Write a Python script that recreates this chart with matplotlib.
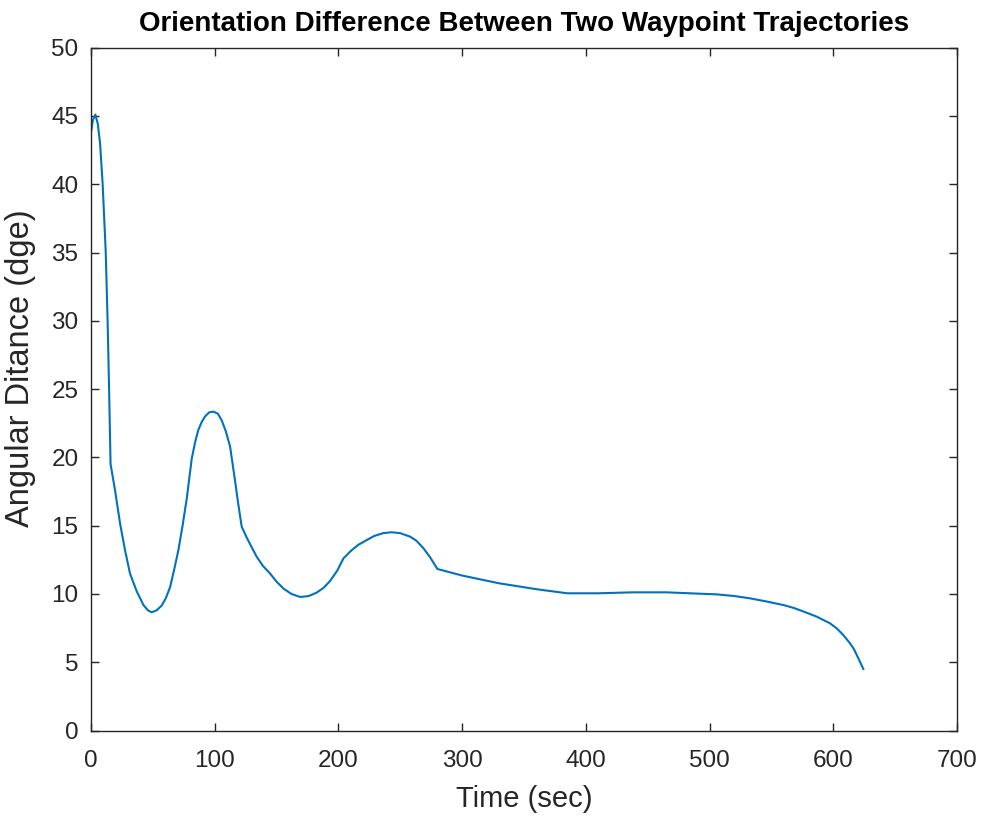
import matplotlib
matplotlib.use('Agg')
import matplotlib.pyplot as plt

# Data
time_sec = [0, 1.5, 3.5, 5.5, 7.3, 9.4, 11.9, 13.4, 14.6, 15.3, 15.8,
            19.4, 23.4, 27.5, 31.5, 36.9, 42.3, 46, 49, 53, 57.1, 60.5, 63.9,
            67, 70.6, 74, 77.4, 81.4, 84.1, 86.7, 89.5, 92.2, 95.5, 98.9,
            102.5, 105.7, 109, 112.4, 116.4, 119, 121.8,
            126, 130, 133.9, 139, 144.7, 150, 155.5, 162, 169, 176, 182.4,
            188, 193.2, 199, 204,
            210, 216.1, 222.9, 229, 236, 243, 250, 257.9, 263, 268.7, 274, 280,
            300, 330, 360, 385, 410, 438, 465, 492, 506,
            520, 532.7, 546, 559.7, 568, 575.8, 586.6, 597.4, 602.7,
            608.1, 613.5, 616.5, 618.9, 621.5, 624.3]
ang_dist = [43.8, 44.7, 45.1, 44.4, 43.0, 40.0, 35.0, 30.0, 25.0, 21.7, 19.5,
            17.6, 15.2, 13.2, 11.5, 10.2, 9.2, 8.8, 8.66, 8.8, 9.15, 9.7, 10.5,
            11.7, 13.2, 15.0, 17.0, 19.9, 21.1, 22.0, 22.6, 23.0, 23.3, 23.35,
            23.2, 22.7, 21.9, 20.8, 18.3, 16.6, 14.93,
            14.1, 13.4, 12.73, 12.05, 11.5, 10.9, 10.4, 10.0, 9.78, 9.85, 10.1,
            10.45, 10.95, 11.7, 12.6,
            13.15, 13.6, 13.95, 14.25, 14.45, 14.52, 14.45, 14.2, 13.9, 13.35, 12.7, 11.83,
            11.35, 10.78, 10.35, 10.05, 10.05, 10.12, 10.12, 10.02, 9.97,
            9.85, 9.68, 9.45, 9.19, 8.98, 8.72, 8.34, 7.85, 7.49,
            7.0, 6.39, 6.0, 5.55, 5.05, 4.51]

plt.rcParams['font.family'] = ['Liberation Sans', 'DejaVu Sans']

fig = plt.figure(figsize=(9.82, 8.17), dpi=100)
ax = fig.add_axes([0.0927, 0.1058, 0.8818, 0.8359])

ax.plot(time_sec, ang_dist, color=(0, 0.447, 0.741), linewidth=1.5)

ax.set_xlim(0, 700)
ax.set_ylim(0, 50)
ax.set_xticks(range(0, 701, 100))
ax.set_yticks(range(0, 51, 5))

gray = (0.15, 0.15, 0.15)
ax.tick_params(direction='in', length=6, width=1, colors=gray, labelsize=17.5,
               top=True, right=True, labeltop=False, labelright=False)
ax.tick_params(axis='x', pad=14)
ax.tick_params(axis='y', pad=9)
for s in ax.spines.values():
    s.set_color(gray)
    s.set_linewidth(1)

ax.set_xlabel('Time (sec)', fontsize=21, color=gray, labelpad=9)
ax.set_ylabel('Angular Ditance (dge)', fontsize=23.5, color=gray, labelpad=7)
ax.yaxis.set_label_coords(-0.063, 0.53)
ax.set_title('Orientation Difference Between Two Waypoint Trajectories',
             fontsize=20, fontweight='bold', color='black', pad=12)

fig.savefig('out.png', dpi=100)
